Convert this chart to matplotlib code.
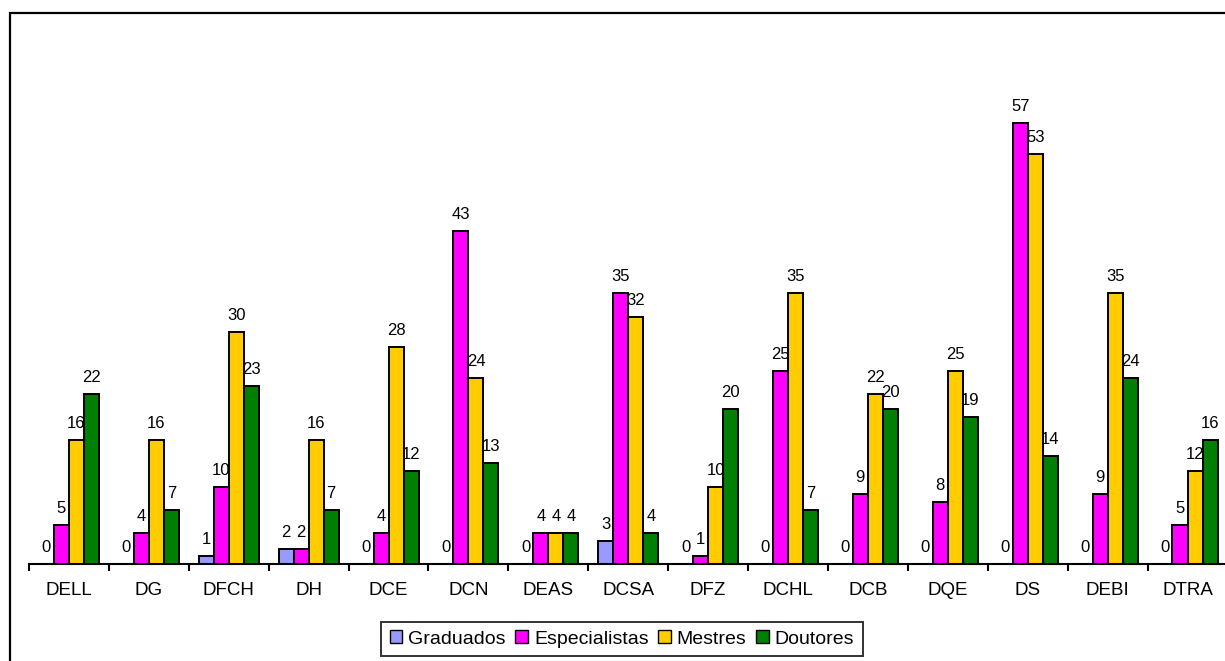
import numpy as np
import matplotlib
matplotlib.use('Agg')
import matplotlib.pyplot as plt
import matplotlib.patches as mpatches

plt.rcParams['font.family'] = ['Liberation Sans', 'DejaVu Sans']

# ── Data ─────────────────────────────────────────────────────────────────────
DEPTS = ['DELL', 'DG', 'DFCH', 'DH', 'DCE', 'DCN', 'DEAS', 'DCSA',
         'DFZ', 'DCHL', 'DCB', 'DQE', 'DS', 'DEBI', 'DTRA']
graduados     = [0, 0, 1, 2, 0, 0, 0, 3, 0, 0, 0, 0, 0, 0, 0]
especialistas = [5, 4, 10, 2, 4, 43, 4, 35, 1, 25, 9, 8, 57, 9, 5]
mestres       = [16, 16, 30, 16, 28, 24, 4, 32, 10, 35, 22, 25, 53, 35, 12]
doutores      = [22, 7, 23, 7, 12, 13, 4, 4, 20, 7, 20, 19, 14, 24, 16]

SERIES = [
    ('Graduados', graduados, '#9999FF'),
    ('Especialistas', especialistas, '#FF00FF'),
    ('Mestres', mestres, '#FFCC00'),
    ('Doutores', doutores, '#008000'),
]

W, H = 1225, 661
fig = plt.figure(figsize=(W / 100, H / 100), dpi=100)

# outer chart frame (runs off the right/bottom edge like the original)
fig.add_artist(mpatches.Rectangle((10 / W, -0.05), 1.1, 1 - 13 / H + 0.05,
                                  transform=fig.transFigure, fill=False,
                                  edgecolor='black', linewidth=1.6))

ax = fig.add_axes([29 / W, 1 - 564 / H, 1 - 29 / W + 0.002, 464 / H])
x = np.arange(len(DEPTS))
bw = 0.188
for i, (name, vals, color) in enumerate(SERIES):
    pos = x + (i - 1.5) * bw
    ax.bar(pos, vals, width=bw, color=color, edgecolor='black',
           linewidth=1.4, label=name, zorder=2)
    for px, v in zip(pos, vals):
        ax.annotate(str(v), xy=(px, v), xytext=(0, 6.5), textcoords='offset points',
                    ha='center', va='bottom', fontsize=12)

ax.set_xlim(-0.5, len(DEPTS) - 0.5)
ax.set_ylim(0, 60)
for s in ['top', 'right', 'left']:
    ax.spines[s].set_visible(False)
ax.spines['bottom'].set_linewidth(1.5)
ax.set_yticks([])
ax.set_xticks(np.arange(-0.5, len(DEPTS), 1.0))
ax.set_xticklabels([])
ax.set_xticks(x, minor=True)
ax.set_xticklabels(DEPTS, minor=True, fontsize=13.5)
ax.tick_params(axis='x', which='major', length=5, width=1.5, direction='out')
ax.tick_params(axis='x', which='minor', length=0, pad=13)

handles = [mpatches.Patch(facecolor=c, edgecolor='black', linewidth=1.0, label=n)
           for n, _, c in SERIES]
leg = fig.legend(handles=handles, loc='center', bbox_to_anchor=(622 / W, 1 - 639 / H),
                 ncol=4, fontsize=14, frameon=True, fancybox=False,
                 handlelength=0.65, handleheight=0.65, handletextpad=0.3,
                 columnspacing=0.5, borderpad=0.45)
leg.get_frame().set_edgecolor('black')
leg.get_frame().set_linewidth(1.4)

fig.savefig('out.png', dpi=100)
